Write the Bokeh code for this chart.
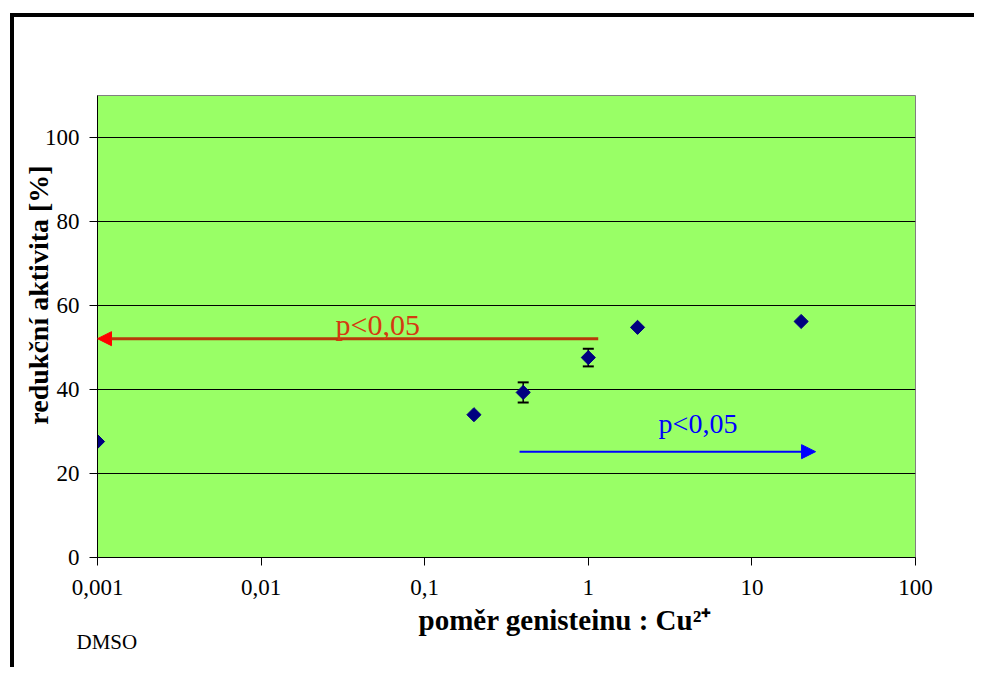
from bokeh.plotting import figure
from bokeh.models import (Range1d, FixedTicker, CustomJSTickFormatter, Whisker, ColumnDataSource,
                          Arrow, NormalHead, TeeHead, Label, Title)
from bokeh.embed import file_html
from bokeh.resources import INLINE

# data
ratio = [0.001, 0.2, 0.4, 1, 2, 20]
activity = [27.6, 34.0, 39.3, 47.6, 54.8, 56.2]
err = [0, 0, 2.4, 2.1, 0, 0]
x_ticks = [0.001, 0.01, 0.1, 1, 10, 100]
y_ticks = [0, 20, 40, 60, 80, 100]

SERIF = "Liberation Serif"
NB = "\u00a0"

OX, OY = 14, 17          # canvas offset inside the black frame
W, H = 964, 654
p = figure(width=W, height=H, x_axis_type="log", output_backend="svg", toolbar_location=None,
           x_range=Range1d(0.001, 100), y_range=Range1d(0, 110))
p.styles = {"border-left": "4px solid black", "border-top": "4px solid black",
            "margin-left": "10px", "margin-top": "13px"}
p.min_border_left = 97 - OX
p.min_border_top = 95 - OY
p.min_border_right = OX + W - 915
p.min_border_bottom = OY + H - 557
p.background_fill_color = "#99ff66"
p.border_fill_color = "white"
p.outline_line_color = "#808080"
p.outline_line_width = 1

p.xgrid.visible = False
p.ygrid.grid_line_color = "black"
p.ygrid.grid_line_width = 1
p.ygrid.ticker = FixedTicker(ticks=y_ticks[1:])

p.xaxis.ticker = FixedTicker(ticks=x_ticks)
p.xaxis.formatter = CustomJSTickFormatter(code="return String(tick).replace('.', ',');")
p.yaxis.ticker = FixedTicker(ticks=y_ticks)
for ax in (p.xaxis[0], p.yaxis[0]):
    ax.major_label_text_font = SERIF
    ax.major_label_text_font_size = "23px"
    ax.major_label_text_color = "black"
    ax.axis_line_color = "black"
    ax.major_tick_line_color = "black"
    ax.major_tick_out = 8
    ax.major_tick_in = 0
    ax.minor_tick_line_color = None
p.xaxis.major_label_standoff = 14
p.yaxis.major_label_standoff = 10

p.yaxis.axis_label = NB * 9 + "redukční aktivita [%]"
p.yaxis.axis_label_text_font = SERIF
p.yaxis.axis_label_text_font_size = "28px"
p.yaxis.axis_label_text_font_style = "bold"
p.yaxis.axis_label_text_color = "black"
p.yaxis.axis_label_standoff = -12

p.add_layout(Title(text="poměr genisteinu : Cu²⁺", align="left", offset=321, standoff=10,
                   text_font=SERIF, text_font_size="29px", text_font_style="bold",
                   text_color="black", vertical_align="middle"), "below")
p.add_layout(Title(text="DMSO", align="left", offset=-21, standoff=-24,
                   text_font=SERIF, text_font_size="21px", text_font_style="normal",
                   text_color="black", vertical_align="top"), "below")

# error bars
wx = [r for r, e in zip(ratio, err) if e > 0]
wu = [a + e for a, e in zip(activity, err) if e > 0]
wl = [a - e for a, e in zip(activity, err) if e > 0]
wsrc = ColumnDataSource(dict(x=wx, upper=wu, lower=wl))
p.add_layout(Whisker(source=wsrc, base="x", upper="upper", lower="lower", line_color="black",
                     line_width=1.5,
                     upper_head=TeeHead(size=11, line_width=2, line_color="black"),
                     lower_head=TeeHead(size=11, line_width=2, line_color="black")))

p.scatter(ratio, activity, marker="square", angle=0.785398, size=10,
          fill_color="#000080", line_color="#000080")

# arrows
p.add_layout(Arrow(x_start=1.15, y_start=52.1, x_end=0.001, y_end=52.1,
                   line_color="#b83a0a", line_width=3,
                   end=NormalHead(size=14, fill_color="#ff0000", line_color="#ff0000")))
p.add_layout(Arrow(x_start=0.38, y_start=25.2, x_end=24.5, y_end=25.2,
                   line_color="#0000ff", line_width=2,
                   end=NormalHead(size=14, fill_color="#0000ff", line_color="#0000ff")))

p.add_layout(Label(x=0.0285, y=55.4, text="p<0,05", text_font=SERIF, text_font_size="30px",
                   text_color="#d43a10", text_align="left", text_baseline="middle"))
p.add_layout(Label(x=2.69, y=32.0, text="p<0,05", text_font=SERIF, text_font_size="28px",
                   text_color="#0000ff", text_align="left", text_baseline="middle"))

open("out.html", "w").write(file_html(p, INLINE))
